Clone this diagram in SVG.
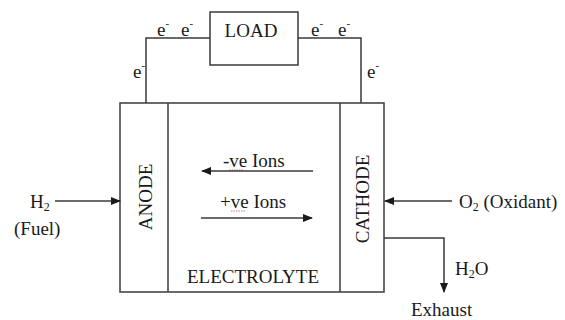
<svg xmlns="http://www.w3.org/2000/svg" width="565" height="320" viewBox="0 0 565 320">
<style>
.ln{fill:none;stroke:#3a3a3a;stroke-width:1.5}
.t{font-family:"Times New Roman",Times,"Liberation Serif",Tinos,"DejaVu Serif",serif;font-size:19px;fill:#1a1a1a}
.sup{font-size:11px}
.sub{font-size:12px}
.sq{fill:none;stroke:#e05050;stroke-width:0.8;stroke-dasharray:1.5 1}
</style>
<defs>
<marker id="ah" markerWidth="10" markerHeight="8" refX="9" refY="4" orient="auto" markerUnits="userSpaceOnUse">
<path d="M0,0 L10,4 L0,8 Z" fill="#1a1a1a"/>
</marker>
</defs>
<rect width="565" height="320" fill="#ffffff"/>

<g id="cell">
<rect class="ln" x="120" y="103" width="264" height="189"/>
</g>
<g id="anode">
<line class="ln" x1="168" y1="103" x2="168" y2="292"/>
<text class="t" text-anchor="middle" transform="translate(152,197) rotate(-90)">ANODE</text>
</g>
<g id="cathode">
<line class="ln" x1="340" y1="103" x2="340" y2="292"/>
<text class="t" text-anchor="middle" transform="translate(369,199) rotate(-90)">CATHODE</text>
</g>
<g id="electrolyte">
<text class="t" x="253" y="283" text-anchor="middle">ELECTROLYTE</text>
<text class="t" x="223" y="167">-ve Ions</text>
<path class="sq" d="M229,170 L244,170"/>
<text class="t" x="220" y="208">+ve Ions</text>
<path class="sq" d="M231,211 L246,211"/>
</g>
<g id="load">
<rect class="ln" x="210" y="12" width="88" height="53"/>
<text class="t" x="251" y="37" text-anchor="middle">LOAD</text>
</g>
<g id="labels">
<text class="t" x="157" y="36">e<tspan class="sup" dy="-9">-</tspan></text>
<text class="t" x="181" y="36">e<tspan class="sup" dy="-9">-</tspan></text>
<text class="t" x="311" y="36">e<tspan class="sup" dy="-9">-</tspan></text>
<text class="t" x="338" y="36">e<tspan class="sup" dy="-9">-</tspan></text>
<text class="t" x="133" y="78">e<tspan class="sup" dy="-9">-</tspan></text>
<text class="t" x="367" y="78">e<tspan class="sup" dy="-9">-</tspan></text>
<text class="t" x="30" y="208">H<tspan class="sub" dy="3">2</tspan></text>
<text class="t" x="14" y="235">(Fuel)</text>
<text class="t" x="459" y="208">O<tspan class="sub" dy="3">2</tspan><tspan dy="-3"> (Oxidant)</tspan></text>
<text class="t" x="455" y="275">H<tspan class="sub" dy="3">2</tspan><tspan dy="-3">O</tspan></text>
<text class="t" x="411" y="316">Exhaust</text>
</g>
<g id="connectors">
<polyline class="ln" points="146,103 146,38 210,38"/>
<polyline class="ln" points="298,38 361,38 361,103"/>
<line class="ln" x1="55" y1="201" x2="120" y2="201" marker-end="url(#ah)"/>
<line class="ln" x1="452" y1="201" x2="385" y2="201" marker-end="url(#ah)"/>
<line class="ln" x1="313" y1="171" x2="202" y2="171" marker-end="url(#ah)"/>
<line class="ln" x1="201" y1="218" x2="312" y2="218" marker-end="url(#ah)"/>
<polyline class="ln" points="384,238 444,238 444,292" marker-end="url(#ah)"/>
</g>
</svg>
